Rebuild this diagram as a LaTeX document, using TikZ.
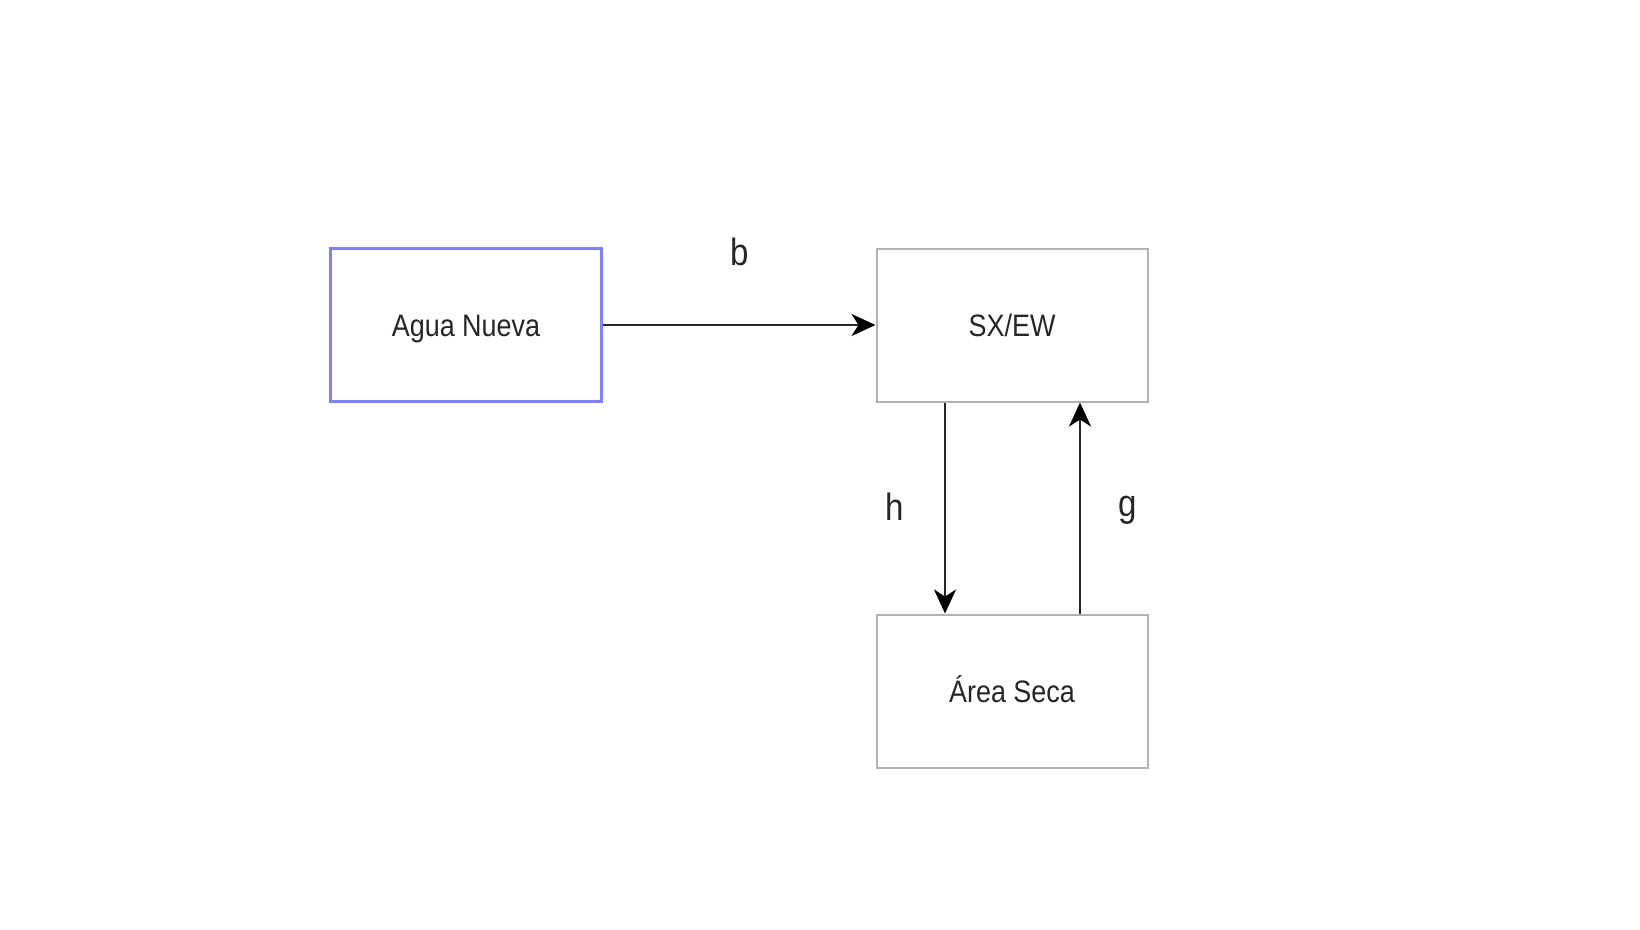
\documentclass[tikz,border=0pt]{standalone}
\usepackage{fontspec}
\setmainfont{Liberation Sans}
\usetikzlibrary{arrows.meta}
\tikzset{
  box/.style={draw=black!30, line width=2pt, minimum width=271pt, minimum height=153pt, inner sep=0pt, text height=22pt, text depth=0pt, font=\fontsize{31}{36}\selectfont, text=black!85},
  bluebox/.style={box, draw={rgb,255:red,128;green,128;blue,255}, line width=3pt},
  flow/.style={draw=black!85, line width=2.5pt, -{Stealth[length=24pt,width=22pt,inset=7pt,color=black]}},
  lbl/.style={font=\fontsize{38}{44}\selectfont, text=black!85, inner sep=0pt}
}
\newcommand{\cond}[1]{\scalebox{0.87}[1]{#1}}
\begin{document}
\begin{tikzpicture}[x=1pt,y=-1pt]
\useasboundingbox (0,0) rectangle (1640,929);
\node[bluebox] (agua) at (466,325) {\cond{Agua Nueva}};
\node[box] (sx) at (1012,325) {\cond{SX/EW}};
\node[box] (area) at (1012,691) {\cond{Área Seca}};
\draw[flow] (agua.east) -- (sx.west);
\draw[flow] (sx.south -| 945,0) -- (area.north -| 945,0);
\draw[flow] (area.north -| 1080,0) -- (sx.south -| 1080,0);
\node[lbl] (b) at (740,252) {\cond{b}};
\node[lbl] (h) at (895,507) {\cond{h}};
\node[lbl] (g) at (1128,510) {\cond{g}};
\end{tikzpicture}
\end{document}
